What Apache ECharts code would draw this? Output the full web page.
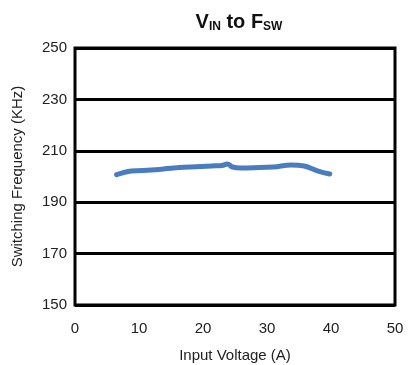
<!DOCTYPE html>
<html><head><meta charset="utf-8">
<script src="https://cdn.jsdelivr.net/npm/echarts@6/dist/echarts.min.js"></script>
<style>html,body{margin:0;padding:0;background:#fff}#c{width:409px;height:365px}</style>
</head><body><div id="c"></div>
<script>
const inputVoltage = [6.5, 8.8, 11.9, 15, 18.1, 21.3, 23.0, 23.8, 24.6, 25.9, 28, 31, 33.8, 35.8, 38, 39.8];
const switchingFreq = [200.7, 202.1, 202.5, 203.2, 203.7, 204.1, 204.3, 204.9, 203.7, 203.3, 203.4, 203.7, 204.5, 204.1, 202.1, 201.0];
const xTicks = [0, 10, 20, 30, 40, 50];
const yTicks = [150, 170, 190, 210, 230, 250];

const chart = echarts.init(document.getElementById('c'));
chart.setOption({
  animation: false,
  title: {
    text: '{a|V}{b|IN}{a| to F}{b|SW}',
    left: 234, top: 5, textAlign: 'center',
    textStyle: {
      rich: {
        a: {fontFamily: 'Liberation Sans, Arial', fontWeight: 'bold', fontSize: 20, color: '#111', lineHeight: 24},
        b: {fontFamily: 'Liberation Sans, Arial', fontWeight: 'bold', fontSize: 12, color: '#111', padding: [10, 0, 0, 0]}
      }
    }
  },
  grid: {left: 75, right: 14, top: 48, bottom: 60, show: true, borderColor: '#000', borderWidth: 3,
    containLabel: false, outerBoundsMode: 'none'},
  xAxis: {
    type: 'value', min: 0, max: 50, interval: 10,
    name: 'Input Voltage (A)', nameLocation: 'middle', nameGap: 43,
    nameTextStyle: {fontFamily: 'Liberation Sans, Arial', fontSize: 15, color: '#222'},
    axisLine: {show: false}, axisTick: {show: false}, splitLine: {show: false},
    axisLabel: {fontFamily: 'Liberation Sans, Arial', fontSize: 15, color: '#222', margin: 16,
      formatter: v => xTicks.includes(v) ? String(v) : ''}
  },
  yAxis: {
    type: 'value', min: 150, max: 250, interval: 20,
    name: 'Switching Frequency (KHz)', nameLocation: 'middle', nameGap: 50,
    nameTextStyle: {fontFamily: 'Liberation Sans, Arial', fontSize: 15, color: '#222'},
    axisLine: {show: false}, axisTick: {show: false},
    splitLine: {show: true, lineStyle: {color: '#000', width: 3}},
    axisLabel: {fontFamily: 'Liberation Sans, Arial', fontSize: 15, color: '#222', margin: 8,
      formatter: v => yTicks.includes(v) ? String(v) : ''}
  },
  series: [{
    type: 'line', data: inputVoltage.map((x, i) => [x, switchingFreq[i]]),
    showSymbol: false, smooth: 0.4,
    lineStyle: {color: '#4a7dbf', width: 5, cap: 'round', join: 'round'}
  }]
});
</script></body></html>
